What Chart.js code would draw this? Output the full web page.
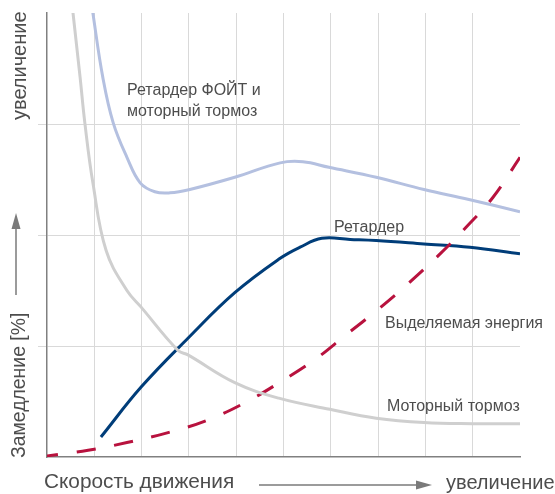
<!DOCTYPE html>
<html>
<head>
<meta charset="utf-8">
<script src="https://cdn.jsdelivr.net/npm/chart.js@4.4.1/dist/chart.umd.min.js"></script>
<style>
  html, body { margin: 0; padding: 0; background: #fff; }
  #wrap { width: 555px; height: 494px; position: relative; }
</style>
</head>
<body>
<div id="wrap"><canvas id="brakeChart"></canvas></div>
<script>
// x: скорость (0..10), y: замедление (0..4)
const motorX = [0.48, 0.55, 0.70, 0.80, 0.97, 1.25, 1.69, 1.99, 2.77, 2.98, 3.97, 4.90, 5.98, 6.96, 7.97, 9.00, 10.0];
const motorY = [4.30, 4.00, 3.42, 3.01, 2.47, 1.86, 1.50, 1.35, 0.96, 0.92, 0.67, 0.53, 0.43, 0.35, 0.31, 0.30, 0.30];

const comboX = [0.87, 0.97, 1.18, 1.40, 1.69, 1.97, 2.28, 2.60, 3.02, 3.97, 4.93, 5.41, 5.96, 6.96, 7.97, 8.92, 10.0];
const comboY = [4.30, 4.00, 3.42, 3.01, 2.70, 2.47, 2.39, 2.38, 2.41, 2.52, 2.65, 2.66, 2.61, 2.52, 2.41, 2.32, 2.21];

const retarderX = [1.14, 1.99, 2.98, 3.97, 4.93, 5.35, 5.81, 6.41, 6.96, 7.97, 8.94, 10.0];
const retarderY = [0.18, 0.63, 1.07, 1.48, 1.79, 1.89, 1.97, 1.96, 1.95, 1.92, 1.89, 1.83];

const energyX = [0, 0.87, 1.69, 2.56, 3.38, 4.19, 4.95, 5.67, 6.32, 7.00, 7.63, 8.31, 8.86, 9.43, 10.0];
const energyY = [0.01, 0.06, 0.13, 0.22, 0.33, 0.49, 0.68, 0.88, 1.10, 1.33, 1.56, 1.83, 2.07, 2.34, 2.70];

function pts(xs, ys) {
    return xs.map((x, i) => ({ x: x, y: ys[i] }));
}

const FONT = '"Liberation Sans", Arial, sans-serif';
const TEXT = '#4d4d4d';
const ARROW = '#7a7a7a';

const labelsPlugin = {
    id: 'labels',
    afterDraw(chart) {
        const ctx = chart.ctx;
        ctx.save();
        ctx.fillStyle = TEXT;
        ctx.textBaseline = 'alphabetic';

        // подписи кривых
        ctx.font = '16px ' + FONT;
        ctx.fillText('Ретардер ФОЙТ и', 127, 95);
        ctx.fillText('моторный тормоз', 127, 116);
        ctx.fillText('Ретардер', 334, 232);
        ctx.fillText('Выделяемая энергия', 385, 328);
        ctx.fillText('Моторный тормоз', 387, 411);

        // ось x
        ctx.font = '20.8px ' + FONT;
        ctx.fillText('Скорость движения', 44, 488);
        ctx.font = '20px ' + FONT;
        ctx.fillText('увеличение', 446, 489);

        // ось y (повернуто)
        ctx.save();
        ctx.translate(26, 120);
        ctx.rotate(-Math.PI / 2);
        ctx.fillText('увеличение', 0, 0);
        ctx.restore();
        ctx.save();
        ctx.font = '19.4px ' + FONT;
        ctx.translate(25, 458);
        ctx.rotate(-Math.PI / 2);
        ctx.fillText('Замедление [%]', 0, 0);
        ctx.restore();

        // стрелки
        ctx.strokeStyle = ARROW;
        ctx.fillStyle = ARROW;
        ctx.lineWidth = 1.5;
        ctx.beginPath();
        ctx.moveTo(16, 295);
        ctx.lineTo(16, 226);
        ctx.stroke();
        ctx.beginPath();
        ctx.moveTo(16, 213);
        ctx.lineTo(11.5, 229);
        ctx.lineTo(20.5, 229);
        ctx.closePath();
        ctx.fill();

        ctx.beginPath();
        ctx.moveTo(259, 485);
        ctx.lineTo(420, 485);
        ctx.stroke();
        ctx.beginPath();
        ctx.moveTo(432, 485);
        ctx.lineTo(416, 480.5);
        ctx.lineTo(416, 489.5);
        ctx.closePath();
        ctx.fill();
        ctx.restore();
    }
};

const ctx = document.getElementById('brakeChart').getContext('2d');
const brakeChart = new Chart(ctx, {
    type: 'line',
    data: {
        datasets: [
            {
                label: 'Моторный тормоз',
                data: pts(motorX, motorY),
                borderColor: '#cfcfcf',
                borderWidth: 3,
            },
            {
                label: 'Ретардер ФОЙТ и моторный тормоз',
                data: pts(comboX, comboY),
                borderColor: '#b4c0e0',
                borderWidth: 3,
            },
            {
                label: 'Выделяемая энергия',
                data: pts(energyX, energyY),
                borderColor: '#b8123e',
                borderWidth: 3,
                borderDash: [19, 19],
                borderDashOffset: 8,
            },
            {
                label: 'Ретардер',
                data: pts(retarderX, retarderY),
                borderColor: '#003d79',
                borderWidth: 3,
            }
        ]
    },
    options: {
        responsive: true,
        maintainAspectRatio: false,
        animation: false,
        layout: { padding: { left: 38, right: 35, top: 13, bottom: 37 } },
        elements: {
            point: { radius: 0 },
            line: { tension: 0.4, fill: false }
        },
        plugins: {
            legend: { display: false },
            tooltip: { enabled: false }
        },
        scales: {
            x: {
                type: 'linear',
                min: 0,
                max: 10,
                ticks: { display: false, stepSize: 1 },
                grid: {
                    drawTicks: false,
                    lineWidth: 1,
                    color: c => (c.tick.value > 0 && c.tick.value < 10) ? '#d9d9d9' : 'rgba(0,0,0,0)'
                },
                border: { color: '#808080', width: 1.5 }
            },
            y: {
                min: 0,
                max: 4,
                ticks: { display: false, stepSize: 1 },
                grid: {
                    drawTicks: true,
                    tickLength: 9,
                    lineWidth: 1,
                    color: c => (c.tick.value > 0 && c.tick.value < 4) ? '#d9d9d9' : 'rgba(0,0,0,0)'
                },
                border: { color: '#808080', width: 1.5 }
            }
        }
    },
    plugins: [labelsPlugin]
});
</script>
</body>
</html>
